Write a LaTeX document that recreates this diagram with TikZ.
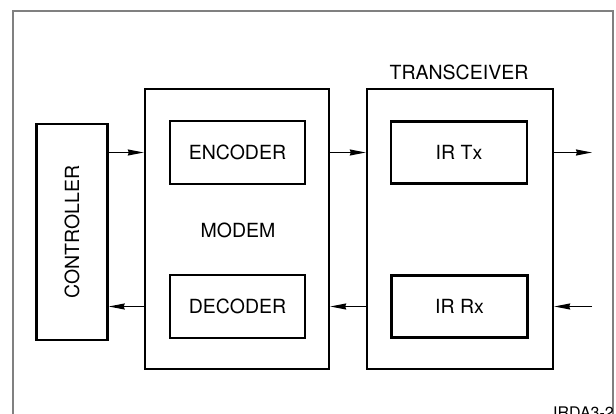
\documentclass[tikz,border=0pt]{standalone}
\usepackage{fontspec}
\setmainfont{TeX Gyre Heros}
\usetikzlibrary{arrows.meta,positioning}

\begin{document}
\begin{tikzpicture}[x=1pt,y=-1pt,
    every node/.style={font=\fontsize{19.5}{22}\selectfont},
    blk/.style={draw,line width=2.4pt,inner sep=0pt},
    sig/.style={->,line width=1.3pt},
    >={Stealth[length=16pt,width=6pt,inset=1pt]}]
  \useasboundingbox(0,0)rectangle(616,414);
  \draw[gray,line width=1.2pt](13,430)--(13,11)--(613,11)--(613,430);
  % blocks
  \node[blk,minimum width=71pt,minimum height=216pt](ctrl)at(72,232){};
  \node[rotate=90](ctrltxt)at(ctrl){CONTROLLER};
  \node[blk,minimum width=184pt,minimum height=280pt](modem)at(237,229){};
  \node[blk,minimum width=186pt,minimum height=280pt](trx)at(460,229){};
  \node[blk,minimum width=135pt,minimum height=63pt](enc)at(237.5,152.5){ENCODER};
  \node[blk,minimum width=135pt,minimum height=63pt](dec)at(237.5,306.5){DECODER};
  \node[blk,minimum width=136pt,minimum height=62pt](tx)at(459,152.5){IR Tx};
  \node[blk,minimum width=136pt,minimum height=62pt](rx)at(459.5,306.5){IR Rx};
  \node(modemtxt)at(238,230){MODEM};
  \node(trxtxt)at(459,72){TRANSCEIVER};
  \node[anchor=north east,inner sep=0pt,font=\fontsize{16}{18}\selectfont](tag)
    at(614,407){IRDA3-2};
  % signals
  \coordinate(out)at(592,152.5);
  \coordinate(in)at(592,306.5);
  \draw[sig](ctrl.east|-enc)--(modem.west|-enc);
  \draw[sig](modem.west|-dec)--(ctrl.east|-dec);
  \draw[sig](modem.east|-enc)--(trx.west|-enc);
  \draw[sig](trx.west|-dec)--(modem.east|-dec);
  \draw[sig](trx.east|-tx)--(out);
  \draw[sig](in)--(trx.east|-rx);
\end{tikzpicture}
\end{document}
